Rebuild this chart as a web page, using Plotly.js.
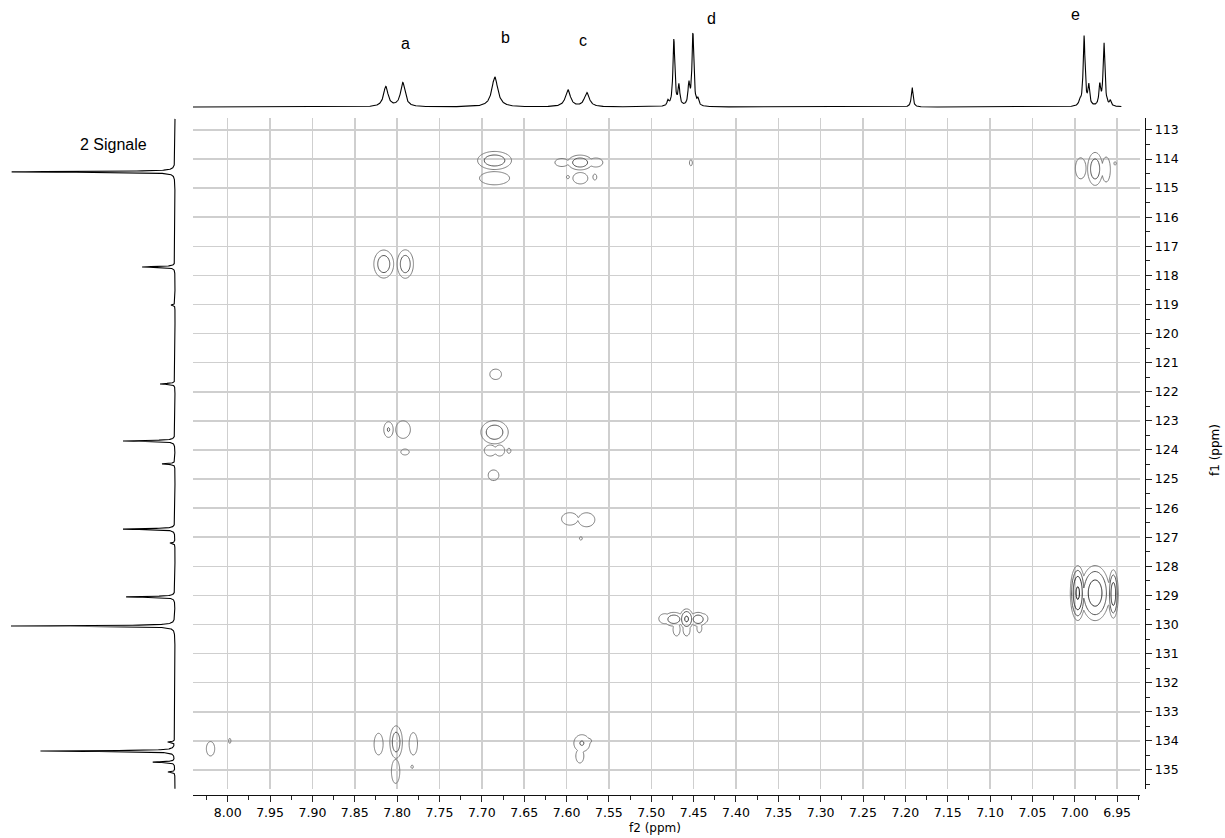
<!DOCTYPE html>
<html><head><meta charset="utf-8">
<script src="https://cdn.plot.ly/plotly-3.0.1.min.js"></script>
<style>html,body{margin:0;padding:0;background:#fff}</style>
</head><body><div id="chart" style="width:1225px;height:838px"></div>
<script>
// ---- 1H projection (f2) : peak positions (ppm), heights, half widths ----
const hPpm       = [7.8134, 7.7933, 7.6847, 7.5984, 7.5760, 7.4803, 7.4733, 7.4673, 7.4556, 7.4508, 7.4449, 7.1920, 6.9940, 6.9890, 6.9835, 6.9705, 6.9655, 6.9580];
const hHeight    = [20, 24, 30, 17, 14, 5, 67, 20, 21, 73, 6, 20, 5, 70, 20, 20, 63, 5];
const hHalfWidth = [0.0032, 0.0032, 0.0042, 0.0035, 0.0035, 0.0012, 0.0013, 0.0012, 0.0012, 0.0013, 0.0012, 0.0012, 0.0012, 0.0013, 0.0012, 0.0012, 0.0013, 0.0012];

// ---- 13C projection (f1) ----
const cPpm       = [114.44, 117.71, 119.02, 121.73, 123.69, 124.48, 126.72, 127.20, 129.05, 130.05, 134.04, 134.35, 134.73, 135.07];
const cHeight    = [164, 33, 4, 15, 52, 13, 52, 5, 49, 164, 7, 135, 22, 7];
const cHalfWidth = [0.016, 0.018, 0.018, 0.018, 0.018, 0.018, 0.018, 0.018, 0.018, 0.016, 0.018, 0.016, 0.018, 0.018];

// ---- HSQC cross peaks: f2 (ppm), f1 (ppm), widths, intensity ----
const xpF2   = [7.685, 7.685, 7.584, 7.6055, 7.5654, 7.5837, 7.5984, 7.5666, 7.4532, 6.993, 6.976, 6.963, 6.9524,
                7.8158, 7.7904, 7.6837, 7.8102, 7.7930, 7.7907, 7.685, 7.690, 7.679, 7.668, 7.6862, 7.5961, 7.5764, 7.5831,
                7.4733, 7.4583, 7.4446, 7.484, 7.439, 7.4701, 7.4583, 7.4432, 6.9965, 6.976, 6.9545,
                8.0203, 7.9976, 7.8219, 7.8012, 7.7809, 7.8018, 7.7823, 7.5819, 7.574, 7.5843];
const xpF1   = [114.05, 114.66, 114.12, 114.12, 114.12, 114.66, 114.62, 114.62, 114.13, 114.32, 114.34, 114.36, 114.15,
                117.61, 117.61, 121.40, 123.30, 123.30, 124.07, 123.39, 124.02, 124.02, 124.03, 124.87, 126.37, 126.40, 127.04,
                129.82, 129.81, 129.82, 129.80, 129.80, 130.17, 130.17, 130.13, 128.92, 128.92, 128.95,
                134.27, 134.00, 134.11, 134.04, 134.10, 135.05, 134.89, 134.08, 134.00, 134.52];
const xpWF2  = [0.0135, 0.0183, 0.0098, 0.0085, 0.0085, 0.0091, 0.0018, 0.0024, 0.0018, 0.0065, 0.0060, 0.0052, 0.0015,
                0.0079, 0.0065, 0.0071, 0.00456, 0.0089, 0.0051, 0.0109, 0.0073, 0.0061, 0.0024, 0.0065, 0.0101, 0.0101, 0.0018,
                0.00787, 0.00464, 0.00656, 0.0073, 0.0061, 0.0043, 0.0043, 0.0030, 0.0042, 0.0090, 0.0031,
                0.0051, 0.0015, 0.0055, 0.0050, 0.0051, 0.0051, 0.0015, 0.00776, 0.0037, 0.0049];
const xpWF1  = [0.210, 0.234, 0.172, 0.142, 0.160, 0.202, 0.060, 0.106, 0.106, 0.372, 0.382, 0.443, 0.060,
                0.325, 0.330, 0.184, 0.220, 0.312, 0.106, 0.270, 0.195, 0.195, 0.090, 0.188, 0.220, 0.248, 0.060,
                0.160, 0.200, 0.160, 0.177, 0.177, 0.230, 0.230, 0.160, 0.450, 0.500, 0.440,
                0.255, 0.089, 0.383, 0.376, 0.397, 0.425, 0.060, 0.240, 0.089, 0.248];
const xpAmp  = [3, 1.6, 3, 1.6, 1.6, 1.6, 1.6, 1.6, 1.6, 1.6, 3, 1.6, 1.6,
                3, 3, 1.6, 2.1, 1.6, 1.6, 3, 1.6, 1.6, 1.6, 1.6, 1.6, 1.6, 1.6,
                3, 4.5, 3, 1.6, 1.6, 1.6, 1.6, 1.6, 9, 6, 6,
                1.6, 1.6, 1.6, 3, 1.6, 1.6, 1.6, 2.1, 1.6, 1.6];

const peakLabels = ['a', 'b', 'c', 'd', 'e'];
const sideLabel = '2 Signale';

// ---- build projections ----
function lorentz(pos, ppm, h, w) {
  return pos.map(p => { let s = 0; for (let i = 0; i < ppm.length; i++) { const d = p - ppm[i]; s += h[i] * w[i] * w[i] / (d * d + w[i] * w[i]); } return s; });
}
const topX = []; for (let v = 8.041; v >= 6.945; v -= 0.0004) topX.push(+v.toFixed(5));
const topY = lorentz(topX, hPpm, hHeight, hHalfWidth);
const sideY = []; for (let v = 112.62; v <= 135.65; v += 0.003) sideY.push(+v.toFixed(4));
const sideX = lorentz(sideY, cPpm, cHeight, cHalfWidth);

// ---- build 2D map ----
const gx = []; for (let v = 8.041; v >= 6.923; v -= 0.0011) gx.push(+v.toFixed(5));
const gy = []; for (let v = 112.6; v <= 135.65; v += 0.032) gy.push(+v.toFixed(4));
const nx = gx.length, ny = gy.length;
const buf = new Float64Array(nx * ny);
for (let k = 0; k < xpF2.length; k++) {
  const sx = xpWF2[k], sy = xpWF1[k];
  for (let j = 0; j < ny; j++) {
    const dy = (gy[j] - xpF1[k]) / sy; if (Math.abs(dy) > 4) continue;
    for (let i = 0; i < nx; i++) {
      const dx = (gx[i] - xpF2[k]) / sx; if (Math.abs(dx) > 4) continue;
      const g = xpAmp[k] * Math.exp(-0.5 * (dx * dx + dy * dy));
      if (g > buf[j * nx + i]) buf[j * nx + i] = g;
    }
  }
}
const gz = [];
for (let j = 0; j < ny; j++) { const row = new Array(nx); for (let i = 0; i < nx; i++) { const v = buf[j * nx + i]; row[i] = v > 0.05 ? Math.log2(v) : -4.3; } gz.push(row); }

// ---- layout helpers (pixel -> paper) ----
const W = 1225, H = 838;
const px = x => x / W, py = y => 1 - y / H;
const tickFont = {family: 'DejaVu Sans, Verdana, sans-serif', size: 12.5, color: '#000'};

const traces = [
  {type: 'contour', x: gx, y: gy, z: gz, xaxis: 'x', yaxis: 'y', autocontour: false,
   contours: {start: 0, end: 3, size: 1, coloring: 'lines'}, zmin: 0, zmax: 3,
   colorscale: [[0, '#7a7a7a'], [0.5, '#3a3a3a'], [1, '#000000']], showscale: false,
   line: {width: 1}, hoverinfo: 'skip'},
  {type: 'scatter', mode: 'lines', x: topX, y: topY, xaxis: 'x2', yaxis: 'y3', line: {color: '#000', width: 1.1}, hoverinfo: 'skip'},
  {type: 'scatter', mode: 'lines', x: sideX, y: sideY, xaxis: 'x3', yaxis: 'y4', line: {color: '#000', width: 1.1}, hoverinfo: 'skip'}
];

const labelPos = [[405, 43], [505, 38], [583, 41], [711, 19], [1075, 15]];
const annotations = peakLabels.map((t, i) => ({text: t, xref: 'paper', yref: 'paper', x: px(labelPos[i][0]), y: py(labelPos[i][1]),
  xanchor: 'center', yanchor: 'middle', showarrow: false, font: {family: 'Liberation Sans, Arial, sans-serif', size: 16, color: '#000'}}));
annotations.push({text: sideLabel, xref: 'paper', yref: 'paper', x: px(113), y: py(144), xanchor: 'center', yanchor: 'middle', showarrow: false,
  font: {family: 'Liberation Sans, Arial, sans-serif', size: 16, color: '#000'}});
annotations.push({text: 'f2 (ppm)', xref: 'paper', yref: 'paper', x: px(655), y: py(828), xanchor: 'center', yanchor: 'middle', showarrow: false,
  font: {family: 'DejaVu Sans, Verdana, sans-serif', size: 12, color: '#000'}});
annotations.push({text: 'f1 (ppm)', xref: 'paper', yref: 'paper', x: px(1215), y: py(450), xanchor: 'center', yanchor: 'middle', showarrow: false, textangle: -90,
  font: {family: 'DejaVu Sans, Verdana, sans-serif', size: 12, color: '#000'}});

const xRange = [8.041, 6.923];
const yRange = [135.654, 112.59];
const layout = {
  width: W, height: H, margin: {l: 0, r: 0, t: 0, b: 0}, paper_bgcolor: '#fff', plot_bgcolor: 'rgba(0,0,0,0)',
  showlegend: false, hovermode: false,
  xaxis: {domain: [px(193), px(1140)], range: xRange, anchor: 'free', position: py(795),
    dtick: 0.05, tick0: 0, tickformat: '.2f', ticks: 'outside', ticklen: 6, tickcolor: '#222', tickwidth: 1,
    minor: {dtick: 0.025, tick0: 0, ticks: 'outside', ticklen: 4, tickcolor: '#222', showgrid: false},
    showline: true, linecolor: '#111', linewidth: 1.3, showgrid: true, gridcolor: '#cfcfcf', gridwidth: 1.5,
    zeroline: false, tickfont: tickFont, fixedrange: true},
  yaxis: {domain: [py(789), py(118)], range: yRange, anchor: 'free', side: 'right', position: px(1145),
    dtick: 1, tick0: 0, ticks: 'outside', ticklen: 6, tickcolor: '#222', tickwidth: 1,
    minor: {dtick: 0.5, tick0: 0, ticks: 'outside', ticklen: 4, tickcolor: '#222', showgrid: false},
    showline: true, linecolor: '#111', linewidth: 1.3, showgrid: true, gridcolor: '#cfcfcf', gridwidth: 1.5,
    zeroline: false, tickfont: tickFont, fixedrange: true},
  xaxis2: {domain: [px(193), px(1140)], range: xRange, anchor: 'y3', visible: false, fixedrange: true},
  yaxis3: {domain: [py(110), 1], range: [-3, 107], anchor: 'x2', visible: false, fixedrange: true},
  xaxis3: {domain: [0, px(180)], range: [175, -5], anchor: 'y4', visible: false, fixedrange: true},
  yaxis4: {domain: [py(789), py(118)], range: yRange, anchor: 'x3', visible: false, fixedrange: true},
  annotations: annotations
};
Plotly.newPlot('chart', traces, layout, {staticPlot: true, displayModeBar: false});
</script></body></html>
